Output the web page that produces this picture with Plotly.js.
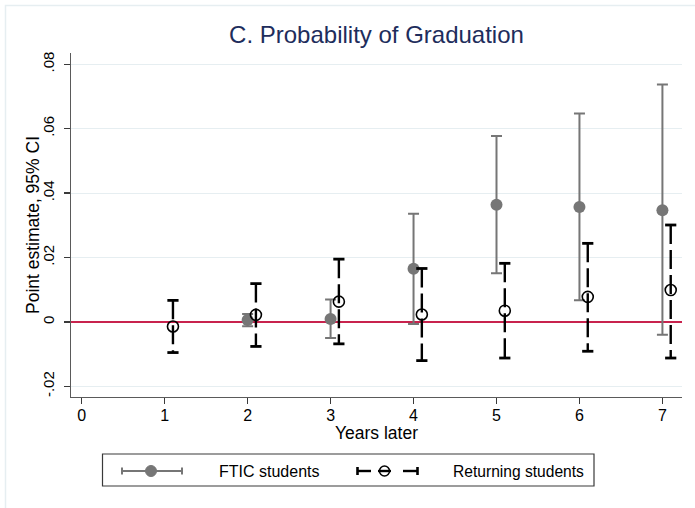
<!DOCTYPE html>
<html>
<head>
<meta charset="utf-8">
<script src="https://cdn.plot.ly/plotly-3.0.1.min.js"></script>
<style>
  html, body { margin: 0; padding: 0; background: #ffffff; }
  #chart { width: 695px; height: 508px; }
</style>
</head>
<body>
<div id="chart"></div>
<script>
// Years after the policy change
const years = [1, 2, 3, 4, 5, 6, 7];

// First-time-in-college students (no estimate for year 1)
const fticYears = [2, 3, 4, 5, 6, 7];
const fticEst = [0.0006, 0.0009, 0.0165, 0.0364, 0.0357, 0.0347];
const fticLo  = [-0.0013, -0.0050, -0.0006, 0.0151, 0.0067, -0.0040];
const fticHi  = [0.0025, 0.0070, 0.0336, 0.0577, 0.0647, 0.0737];

// Returning students
const retEst = [-0.0014, 0.0022, 0.0063, 0.0023, 0.0035, 0.0078, 0.0099];
const retLo  = [-0.0095, -0.0076, -0.0068, -0.0120, -0.0112, -0.0091, -0.0112];
const retHi  = [0.0067, 0.0119, 0.0195, 0.0166, 0.0182, 0.0244, 0.0301];

// Axis ticks
const xTicks = [0, 1, 2, 3, 4, 5, 6, 7];
const yTickVals = [-0.02, 0, 0.02, 0.04, 0.06, 0.08];
const yTickText = ['-.02', '0', '.02', '.04', '.06', '.08'];

const FONT = 'Liberation Sans, Arial, sans-serif';
const GRAY = '#767676';
const BLACK = '#000000';
const SHIFT = 0.1; // returning-student estimates are nudged right of the year

const retX = years.map(v => v + SHIFT);

// Dashed CI whiskers for returning students, drawn top to bottom
const ciX = [], ciY = [];
retX.forEach((x, i) => {
  ciX.push(x, x, null);
  ciY.push(retHi[i], retLo[i], null);
});

const traces = [
  {
    type: 'scatter', mode: 'markers', name: 'FTIC students', showlegend: false,
    x: fticYears, y: fticEst,
    marker: { color: GRAY, size: 12, symbol: 'circle' },
    error_y: {
      type: 'data', symmetric: false,
      array: fticHi.map((h, i) => h - fticEst[i]),
      arrayminus: fticEst.map((e, i) => e - fticLo[i]),
      color: GRAY, thickness: 2, width: 5.5
    },
    hoverinfo: 'skip'
  },
  {
    type: 'scatter', mode: 'lines', showlegend: false,
    x: ciX, y: ciY, connectgaps: false,
    line: { color: BLACK, width: 2.4, dash: '19px,6px' },
    hoverinfo: 'skip'
  },
  {
    type: 'scatter', mode: 'markers', showlegend: false,
    x: retX.concat(retX), y: retLo.concat(retHi),
    marker: { symbol: 'line-ew', size: 8, line: { color: BLACK, width: 2.8 } },
    hoverinfo: 'skip'
  },
  {
    type: 'scatter', mode: 'markers', name: 'Returning students', showlegend: false,
    x: retX, y: retEst,
    marker: { symbol: 'circle-open', size: 11, color: BLACK, line: { color: BLACK, width: 1.6 } },
    hoverinfo: 'skip'
  }
];

// Plot area geometry (pixels) for placing the hand-built legend and titles
const M = { l: 71, r: 13, t: 53, b: 111 };
const W = 695, H = 508;
const PW = W - M.l - M.r, PH = H - M.t - M.b;
const px = x => (x - M.l) / PW;
const py = y => (H - M.b - y) / PH;

const legY = 471;
const shapes = [
  // faint outer frame
  { type: 'rect', xref: 'paper', yref: 'paper', layer: 'below',
    x0: px(5.5), x1: px(720), y0: py(5.5), y1: py(530),
    line: { color: '#e6eef1', width: 1.5 }, fillcolor: 'rgba(0,0,0,0)' },
  // legend box
  { type: 'rect', xref: 'paper', yref: 'paper',
    x0: px(102.5), x1: px(594), y0: py(454), y1: py(486),
    line: { color: '#3a3a3a', width: 1.2 }, fillcolor: '#ffffff' },
  // FTIC key: solid gray bar with caps
  { type: 'line', xref: 'paper', yref: 'paper', x0: px(122), x1: px(182), y0: py(legY), y1: py(legY),
    line: { color: GRAY, width: 2 } },
  { type: 'line', xref: 'paper', yref: 'paper', x0: px(122), x1: px(122), y0: py(legY - 3.5), y1: py(legY + 3.5),
    line: { color: GRAY, width: 2 } },
  { type: 'line', xref: 'paper', yref: 'paper', x0: px(182), x1: px(182), y0: py(legY - 3.5), y1: py(legY + 3.5),
    line: { color: GRAY, width: 2 } },
  { type: 'circle', xref: 'paper', yref: 'paper', x0: px(145.5), x1: px(156.5), y0: py(legY - 5.5), y1: py(legY + 5.5),
    line: { color: GRAY, width: 1 }, fillcolor: GRAY },
  // Returning key: dashed black bar with caps
  { type: 'line', xref: 'paper', yref: 'paper', x0: px(357), x1: px(371), y0: py(legY), y1: py(legY),
    line: { color: BLACK, width: 2.4 } },
  { type: 'line', xref: 'paper', yref: 'paper', x0: px(378), x1: px(391), y0: py(legY), y1: py(legY),
    line: { color: BLACK, width: 2.4 } },
  { type: 'line', xref: 'paper', yref: 'paper', x0: px(403), x1: px(418), y0: py(legY), y1: py(legY),
    line: { color: BLACK, width: 2.4 } },
  { type: 'line', xref: 'paper', yref: 'paper', x0: px(357.5), x1: px(357.5), y0: py(legY - 4), y1: py(legY + 4),
    line: { color: BLACK, width: 2.6 } },
  { type: 'line', xref: 'paper', yref: 'paper', x0: px(417.5), x1: px(417.5), y0: py(legY - 4), y1: py(legY + 4),
    line: { color: BLACK, width: 2.6 } },
  { type: 'circle', xref: 'paper', yref: 'paper', x0: px(379.5), x1: px(389.5), y0: py(legY - 5), y1: py(legY + 5),
    line: { color: BLACK, width: 1.5 }, fillcolor: 'rgba(0,0,0,0)' }
];

const annotations = [
  // y-axis title
  { xref: 'paper', yref: 'paper', x: px(33), y: py(225), xanchor: 'center', yanchor: 'middle',
    textangle: -90, text: 'Point estimate, 95% CI', showarrow: false,
    font: { family: FONT, size: 17.5, color: BLACK } },
  // legend labels
  { xref: 'paper', yref: 'paper', x: px(217), y: py(legY), xanchor: 'left', yanchor: 'middle',
    text: 'FTIC students', showarrow: false, font: { family: FONT, size: 16, color: BLACK } },
  { xref: 'paper', yref: 'paper', x: px(451), y: py(legY), xanchor: 'left', yanchor: 'middle',
    text: 'Returning students', showarrow: false, font: { family: FONT, size: 15.6, color: BLACK } }
];

const layout = {
  width: W, height: H,
  margin: M,
  paper_bgcolor: '#ffffff', plot_bgcolor: '#ffffff',
  showlegend: false,
  font: { family: FONT, size: 15, color: '#000000' },
  title: {
    text: 'C. Probability of Graduation',
    font: { family: FONT, size: 24, color: '#1e2d5c' },
    x: px(376.5), xref: 'paper', xanchor: 'center',
    y: 1 - 35 / H, yref: 'container', yanchor: 'middle'
  },
  xaxis: {
    range: [-0.129, 7.236],
    tickvals: xTicks, ticktext: xTicks.map(String),
    showgrid: false, zeroline: false,
    showline: true, linecolor: '#5a5a5a', linewidth: 1.3,
    ticks: 'outside', ticklen: 6, tickwidth: 1.3, tickcolor: '#3a3a3a',
    ticklabelstandoff: -3,
    tickfont: { family: FONT, size: 16, color: '#000' },
    title: { text: 'Years later', font: { family: FONT, size: 17.5, color: '#000' }, standoff: 0 },
    automargin: false, fixedrange: true
  },
  yaxis: {
    range: [-0.0233, 0.0835],
    tickvals: yTickVals, ticktext: yTickText, tickangle: -90,
    showgrid: true, gridcolor: '#e6eef1', gridwidth: 1,
    zeroline: true, zerolinecolor: '#c8234d', zerolinewidth: 1.8,
    showline: true, linecolor: '#5a5a5a', linewidth: 1.3,
    ticks: 'outside', ticklen: 6, tickwidth: 1.3, tickcolor: '#3a3a3a',
    ticklabelstandoff: 4,
    tickfont: { family: FONT, size: 15, color: '#000' },
    automargin: false, fixedrange: true
  },
  shapes: shapes,
  annotations: annotations
};

Plotly.newPlot('chart', traces, layout, { displayModeBar: false, staticPlot: true });
</script>
</body>
</html>
